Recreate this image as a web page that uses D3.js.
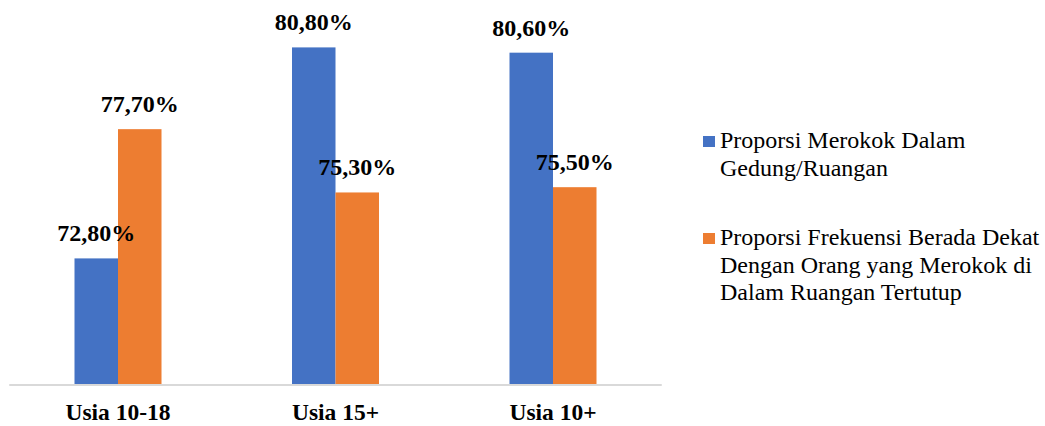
<!DOCTYPE html>
<html>
<head>
<meta charset="utf-8">
<script src="https://cdn.jsdelivr.net/npm/d3@7"></script>
</head>
<body style="margin:0">
<svg id="chart" width="1045" height="426" font-family="Liberation Serif" style="display:block"></svg>
<script>
// data
var categories = ["Usia 10-18", "Usia 15+", "Usia 10+"];
var seriesNames = ["Proporsi Merokok Dalam Gedung/Ruangan",
                   "Proporsi Frekuensi Berada Dekat Dengan Orang yang Merokok di Dalam Ruangan Tertutup"];
var dalamGedung = [72.8, 80.8, 80.6];
var dekatPerokok = [77.7, 75.3, 75.5];
var valueLabels = [["72,80%", "80,80%", "80,60%"], ["77,70%", "75,30%", "75,50%"]];
var legendLines = [["Proporsi Merokok Dalam", "Gedung/Ruangan"],
                   ["Proporsi Frekuensi Berada Dekat", "Dengan Orang yang Merokok di", "Dalam Ruangan Tertutup"]];
var colors = ["#4472c4", "#ed7d31"];

var fontFam = "Liberation Serif";

var svg = d3.select("#chart");

var x = d3.scaleBand()
    .domain(categories)
    .range([9.25, 661.75])
    .paddingInner(0.6)
    .paddingOuter(0.3);

var x1 = d3.scaleBand()
    .domain([0, 1])
    .range([0, x.bandwidth()]);

var y = d3.scaleLinear()
    .domain([68, 82])
    .range([385, 15.75]);

var series = [dalamGedung, dekatPerokok];

// bars
series.forEach(function (vals, s) {
    svg.append("g")
        .selectAll("rect")
        .data(vals)
        .enter()
        .append("rect")
        .attr("x", function (d, i) { return x(categories[i]) + x1(s); })
        .attr("y", function (d) { return y(d); })
        .attr("width", x1.bandwidth())
        .attr("height", function (d) { return y(68) - y(d); })
        .attr("fill", colors[s]);
});

// baseline
svg.append("line")
    .attr("x1", x.range()[0])
    .attr("x2", x.range()[1])
    .attr("y1", y(68))
    .attr("y2", y(68))
    .attr("stroke", "#d9d9d9")
    .attr("stroke-width", 2);

// value labels
series.forEach(function (vals, s) {
    svg.append("g")
        .selectAll("text")
        .data(vals)
        .enter()
        .append("text")
        .attr("x", function (d, i) { return x(categories[i]) + x1(s) + x1.bandwidth() / 2; })
        .attr("y", function (d) { return y(d) - 17; })
        .attr("text-anchor", "middle")
        .attr("font-family", fontFam)
        .attr("font-weight", "bold")
        .attr("font-size", 24)
        .attr("fill", "#000")
        .text(function (d, i) { return valueLabels[s][i]; });
});

// category labels
svg.append("g")
    .selectAll("text")
    .data(categories)
    .enter()
    .append("text")
    .attr("x", function (d) { return x(d) + x.bandwidth() / 2; })
    .attr("y", 420)
    .attr("text-anchor", "middle")
    .attr("font-family", fontFam)
    .attr("font-weight", "bold")
    .attr("font-size", 23.5)
    .attr("fill", "#000")
    .text(function (d) { return d; });

// legend
var legendTop = [148, 245];
legendLines.forEach(function (lines, s) {
    var g = svg.append("g");
    g.append("rect")
        .attr("x", 703)
        .attr("y", legendTop[s] - 12)
        .attr("width", 12)
        .attr("height", 11)
        .attr("fill", colors[s]);
    g.selectAll("text")
        .data(lines)
        .enter()
        .append("text")
        .attr("x", 720)
        .attr("y", function (d, i) { return legendTop[s] + i * 27.5; })
        .attr("font-family", fontFam)
        .attr("font-size", 24)
        .attr("fill", "#000")
        .text(function (d) { return d; });
});
</script>
</body>
</html>
